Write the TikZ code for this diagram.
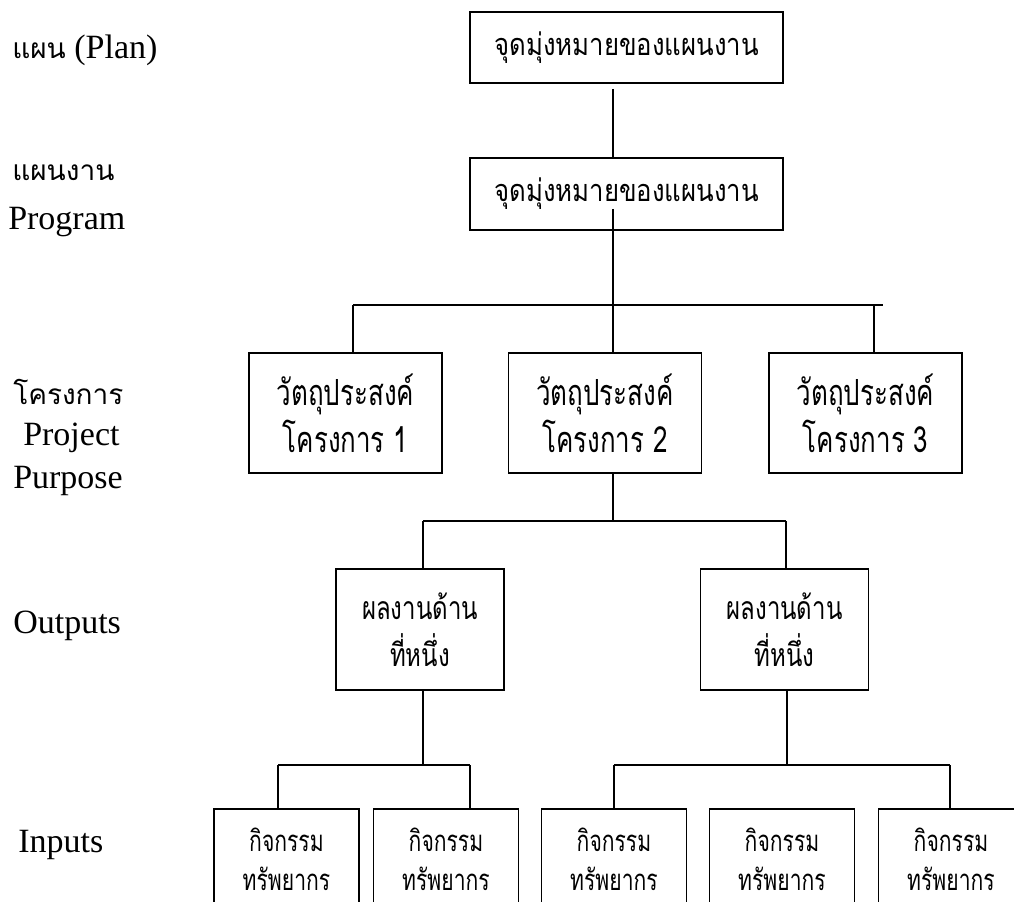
\documentclass[tikz,border=0pt]{standalone}
\usepackage{fontspec}
\setmainfont{Liberation Serif}
\newfontfamily\thaifont[Script=Thai]{Loma}
\newfontfamily\thaiwide[Script=Thai,FakeStretch=0.84]{Loma}
\newfontfamily\thaimid[Script=Thai,FakeStretch=0.75]{Loma}
\newfontfamily\thaicond[Script=Thai,FakeStretch=0.72]{Loma}
\usetikzlibrary{positioning}

\tikzset{
  conn/.style={line width=1.4pt},
  box/.style={draw, line width=1.4pt, inner sep=0pt, align=center},
  planbox/.style={box, minimum width=234.75pt, minimum height=53.5pt,
    font=\thaiwide\fontsize{23}{27}\selectfont},
  objbox/.style={box, minimum width=144.75pt, minimum height=90pt,
    font=\thaicond\fontsize{27}{35}\selectfont},
  outbox/.style={box, minimum width=126pt, minimum height=90.75pt,
    font=\thaimid\fontsize{24}{35}\selectfont},
  inbox/.style={box, minimum width=108.75pt, minimum height=75pt,
    font=\thaicond\fontsize{22}{29}\selectfont},
  lbl/.style={anchor=west, inner sep=0pt, font=\fontsize{25.5}{30}\selectfont},
  thlbl/.style={lbl, font=\thaifont\fontsize{21}{26}\selectfont}
}

\begin{document}
\begin{tikzpicture}[x=0.75pt, y=-0.75pt]
  \useasboundingbox (0,0) rectangle (1014,902);
  \clip (0,0) rectangle (1014,902);

  % left column
  \node[lbl] (lplan) at (12,50) {{\thaifont\fontsize{21}{26}\selectfont แผน} (Plan)};
  \node[thlbl] (lprog) at (12,173) {แผนงาน};
  \node[lbl] (lprogen) at (8,222) {Program};
  \node[thlbl] (lproj) at (13,392) {โครงการ};
  \node[lbl] (lprojen) at (23,438) {Project};
  \node[lbl] (lpurp) at (13,481) {Purpose};
  \node[lbl] (lout) at (13,626) {Outputs};
  \node[lbl] (lin) at (18,845) {Inputs};

  % boxes
  \node[planbox] (plan) at (626.5,47.5) {จุดมุ่งหมายของแผนงาน};
  \node[planbox, minimum height=54pt] (prog) at (626.5,194) {จุดมุ่งหมายของแผนงาน};

  \node[objbox] (obj1) at (345.5,413) {วัตถุประสงค์\\โครงการ 1};
  \node[objbox] (obj2) at (605,413) {วัตถุประสงค์\\โครงการ 2};
  \node[objbox] (obj3) at (865.5,413) {วัตถุประสงค์\\โครงการ 3};

  \node[outbox] (out1) at (420,629.5) {ผลงานด้าน\\ที่หนึ่ง};
  \node[outbox] (out2) at (784.5,629.5) {ผลงานด้าน\\ที่หนึ่ง};

  \node[inbox] (in1) at (286.5,859) {กิจกรรม\\ทรัพยากร};
  \node[inbox] (in2) at (446,859) {กิจกรรม\\ทรัพยากร};
  \node[inbox] (in3) at (614,859) {กิจกรรม\\ทรัพยากร};
  \node[inbox] (in4) at (782,859) {กิจกรรม\\ทรัพยากร};
  \node[inbox] (in5) at (951,859) {กิจกรรม\\ทรัพยากร};

  % junctions
  \coordinate (trunk) at (613,209);
  \coordinate (b1l) at (353,305);
  \coordinate (b1m) at (613,305);
  \coordinate (b1r) at (883,305);
  \coordinate (b1d) at (874,305);
  \coordinate (b2l) at (423,521);
  \coordinate (b2m) at (613,521);
  \coordinate (b2r) at (786,521);
  \coordinate (b3l) at (278,765);
  \coordinate (b3m) at (423,765);
  \coordinate (b3r) at (470,765);
  \coordinate (b4l) at (614,765);
  \coordinate (b4m) at (787,765);
  \coordinate (b4r) at (950,765);

  % connectors
  \draw[conn, shorten <=3.5pt] (plan.south -| trunk) -- (prog.north -| trunk);
  \draw[conn] (trunk) -- (b1m);
  \draw[conn] (b1l) -- (b1r);
  \draw[conn] (b1l) -- (b1l |- obj1.north);
  \draw[conn] (b1m) -- (b1m |- obj2.north);
  \draw[conn] (b1d) -- (b1d |- obj3.north);

  \draw[conn] (obj2.south -| b2m) -- (b2m);
  \draw[conn] (b2l) -- (b2r);
  \draw[conn] (b2l) -- (b2l |- out1.north);
  \draw[conn] (b2r) -- (b2r |- out2.north);

  \draw[conn] (out1.south -| b3m) -- (b3m);
  \draw[conn] (b3l) -- (b3r);
  \draw[conn] (b3l) -- (b3l |- in1.north);
  \draw[conn] (b3r) -- (b3r |- in2.north);

  \draw[conn] (out2.south -| b4m) -- (b4m);
  \draw[conn] (b4l) -- (b4r);
  \draw[conn] (b4l) -- (b4l |- in3.north);
  \draw[conn] (b4r) -- (b4r |- in5.north);
\end{tikzpicture}
\end{document}
